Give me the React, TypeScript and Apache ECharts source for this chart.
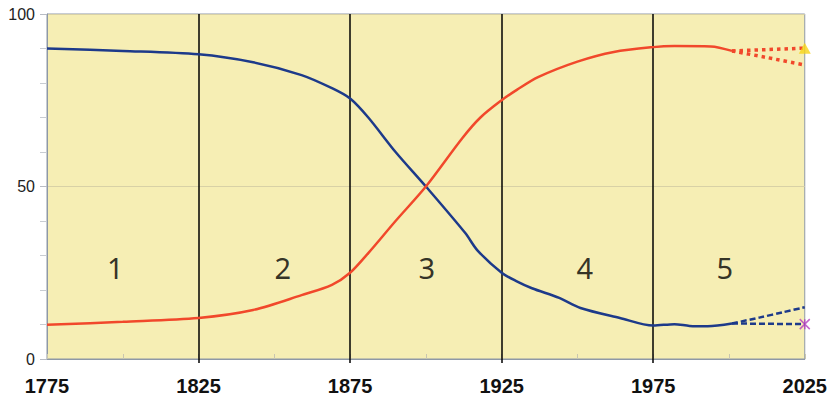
import React, { useEffect, useRef } from "react";
import * as echarts from "echarts";

// x-axis tick labels (years) and y-axis tick labels (percent)
const yearTicks = [1775, 1825, 1875, 1925, 1975, 2025];
const percentTicks = [0, 50, 100];
const phaseBoundaries = [1825, 1875, 1925, 1975];

// phase numbers placed in the plot
const phaseNames = ["1", "2", "3", "4", "5"];
const phaseYears = [1797.5, 1852.8, 1900.3, 1952.4, 1998.6];
const phaseLevel = [26.5, 26.5, 26.5, 26.5, 26.5];

// blue series (declining)
const blueSolid: [number, number][] = [
  [1775, 90], [1800, 89.3], [1825, 88.3], [1843, 86], [1859, 82.3],
  [1869, 78.5], [1875, 75.5], [1881, 70], [1890, 60], [1900, 50],
  [1913, 36.5], [1917, 31.5], [1925, 25], [1930, 22.5], [1935, 20.5],
  [1944, 17.7], [1951, 14.8], [1964, 11.9], [1975, 9.7], [1982, 10.1],
  [1987, 9.6], [1993, 9.5], [2001, 10.3],
];
const blueProjectionHigh: [number, number][] = [
  [2001, 10.3], [2010, 12], [2018, 13.6], [2025, 15],
];
const blueProjectionLow: [number, number][] = [
  [2001, 10.3], [2025, 10.1],
];

// red series (rising)
const redSolid: [number, number][] = [
  [1775, 9.9], [1800, 10.8], [1825, 11.9], [1843, 14.2], [1859, 18.5],
  [1869, 21.5], [1875, 25], [1881, 30.7], [1890, 40], [1900, 50],
  [1912, 64], [1918, 70], [1925, 75], [1930, 78], [1937, 81.7],
  [1950, 86.2], [1962, 89], [1975, 90.4], [1982, 90.7], [1994, 90.6],
  [2001, 89.3],
];
const redProjectionHigh: [number, number][] = [
  [2001, 89.3], [2025, 90.1],
];
const redProjectionLow: [number, number][] = [
  [2001, 89.3], [2013, 87.3], [2025, 85.2],
];

const endTriangle: [number, number][] = [[2025, 90.1]];
const endCross: [number, number][] = [[2025, 10.1]];

const BLUE = "#1d3a8a";
const RED = "#f1482b";
const BORDER = "#8e98a6";

export default function App() {
  const ref = useRef<HTMLDivElement>(null);

  useEffect(() => {
    if (!ref.current) return;
    const chart = echarts.init(ref.current, null, { renderer: "svg" });
    const xRange = { min: yearTicks[0], max: yearTicks[yearTicks.length - 1] };
    chart.setOption({
      animation: false,
      grid: {
        left: 47,
        right: 25,
        top: 14,
        bottom: 48,
        show: true,
        backgroundColor: "#f6eeb4",
        borderColor: BORDER,
        borderWidth: 1,
      },
      xAxis: [
        {
          type: "value",
          position: "bottom",
          ...xRange,
          interval: 50,
          axisLine: { show: true, lineStyle: { color: BORDER, width: 1 } },
          axisTick: {
            show: true,
            inside: false,
            length: 4,
            customValues: phaseBoundaries,
            lineStyle: { color: "#000", width: 1.5 },
          },
          axisLabel: {
            customValues: yearTicks,
            formatter: (v: number) => String(v),
            fontFamily: "Liberation Sans, Arial, sans-serif",
            fontWeight: "bold",
            fontSize: 20,
            color: "#111",
            margin: 17,
          },
          splitLine: { show: false },
        },
        {
          type: "value",
          position: "bottom",
          ...xRange,
          interval: 25,
          axisLine: { show: false },
          axisTick: {
            show: true,
            inside: true,
            length: 5,
            lineStyle: { color: "#c9c6b0", width: 1 },
          },
          axisLabel: { show: false },
          splitLine: { show: false },
        },
      ],
      yAxis: {
        type: "value",
        min: percentTicks[0],
        max: percentTicks[percentTicks.length - 1],
        interval: 50,
        axisLine: { show: true, lineStyle: { color: BORDER, width: 1 } },
        axisTick: {
          show: true,
          inside: false,
          length: 7,
          lineStyle: { color: "#b8bcc4", width: 1 },
        },
        minorTick: {
          show: true,
          splitNumber: 5,
          length: 7,
          lineStyle: { color: "#c8ccd2", width: 1 },
        },
        axisLabel: {
          fontFamily: "Liberation Sans, Arial, sans-serif",
          fontSize: 16,
          color: "#222",
          margin: 12,
        },
        splitLine: { show: true, lineStyle: { color: "#d8d1a6", width: 1 } },
      },
      series: [
        {
          type: "line",
          data: blueSolid,
          symbol: "none",
          smooth: 0.3,
          lineStyle: { color: BLUE, width: 2.5 },
          z: 3,
          markLine: {
            silent: true,
            symbol: ["none", "none"],
            label: { show: false },
            lineStyle: { color: "#000", width: 1.5, type: "solid" },
            data: phaseBoundaries.map((x) => ({ xAxis: x })),
            z: 1,
          },
        },
        {
          type: "line",
          data: blueProjectionHigh,
          symbol: "none",
          smooth: 0.3,
          lineStyle: { color: BLUE, width: 2.5, type: [6, 3] },
          z: 3,
        },
        {
          type: "line",
          data: blueProjectionLow,
          symbol: "none",
          lineStyle: { color: BLUE, width: 2.5, type: [6, 3] },
          z: 3,
        },
        {
          type: "line",
          data: redSolid,
          symbol: "none",
          smooth: 0.3,
          lineStyle: { color: RED, width: 2.5 },
          z: 3,
        },
        {
          type: "line",
          data: redProjectionHigh,
          symbol: "none",
          lineStyle: { color: RED, width: 3.5, type: [3.5, 4] },
          z: 3,
        },
        {
          type: "line",
          data: redProjectionLow,
          symbol: "none",
          smooth: 0.2,
          lineStyle: { color: RED, width: 3.5, type: [3.5, 4] },
          z: 3,
        },
        {
          type: "scatter",
          data: endTriangle,
          symbol: "triangle",
          symbolSize: [12, 11],
          clip: false,
          itemStyle: { color: "#f7d417" },
          z: 5,
        },
        {
          type: "scatter",
          data: endCross,
          symbol: "path://M0,0L10,10M10,0L0,10M5,0L5,10",
          symbolSize: 10,
          clip: false,
          itemStyle: { color: "none", borderColor: "#b43fbf", borderWidth: 1.5 },
          z: 5,
        },
        {
          type: "scatter",
          data: phaseNames.map((n, i) => ({ name: n, value: [phaseYears[i], phaseLevel[i]] })),
          symbolSize: 0,
          silent: true,
          label: {
            show: true,
            position: "inside",
            formatter: (p: any) => p.name,
            fontFamily: "Noto Sans, DejaVu Sans, sans-serif",
            fontSize: 29,
            color: "#000",
          },
          z: 4,
        },
      ],
    });
    return () => chart.dispose();
  }, []);

  return (
    <div
      ref={ref}
      style={{ position: "absolute", left: 0, top: 0, width: 830, height: 407 }}
    />
  );
}
